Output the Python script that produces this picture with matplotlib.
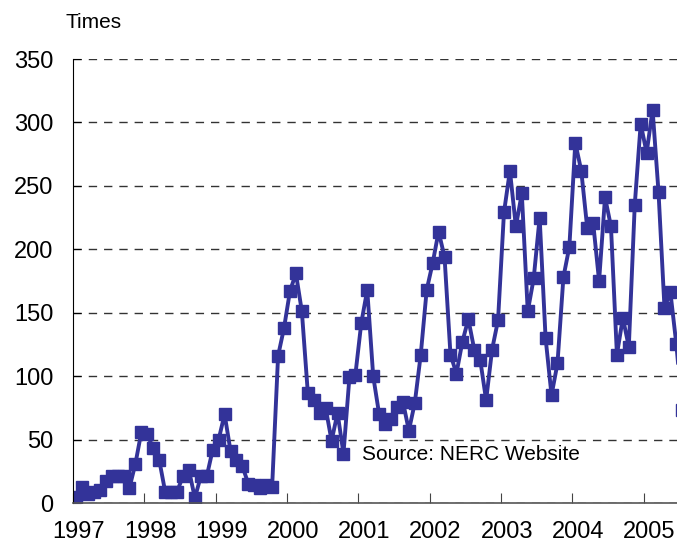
import numpy as np
import matplotlib
matplotlib.use("Agg")
import matplotlib.pyplot as plt

# monthly counts, Jan 1997 onward
y1997 = [5, 13, 7, 9, 10, 17, 21, 21, 21, 12, 31, 56]
y1998 = [54, 43, 34, 9, 9, 9, 21, 26, 4, 21, 21, 42]
y1999 = [50, 70, 41, 34, 29, 15, 14, 12, 14, 13, 116, 138]
y2000 = [167, 181, 151, 87, 81, 71, 75, 49, 71, 39, 99, 101]
y2001 = [142, 168, 100, 70, 62, 66, 76, 80, 57, 79, 117, 168]
y2002 = [189, 214, 194, 117, 102, 127, 145, 121, 113, 81, 121, 144]
y2003 = [229, 262, 218, 244, 151, 177, 225, 130, 85, 110, 178, 202]
y2004 = [284, 262, 217, 221, 175, 241, 218, 117, 146, 123, 235, 299]
y2005 = [276, 310, 245, 154, 166, 125, 73]
years = ['1997', '1998', '1999', '2000', '2001', '2002', '2003', '2004', '2005']

values = y1997 + y1998 + y1999 + y2000 + y2001 + y2002 + y2003 + y2004 + y2005
months = np.arange(len(values))

plt.rcParams['font.family'] = ['Liberation Sans', 'DejaVu Sans']

fig = plt.figure(figsize=(6.77, 5.47), dpi=100)
ax = fig.add_axes([73 / 677, 44 / 547, 642 / 677, 444 / 547])

ax.plot(months, values, color='#333399', linewidth=2.8, marker='s',
        markersize=8.5, markerfacecolor='#333399', markeredgecolor='#333399')

ax.set_xlim(-0.5, 107.5)
ax.set_ylim(0, 350)

ax.set_yticks(np.arange(0, 351, 50))
ax.yaxis.grid(True, color='#333333', linestyle=(0, (6, 5)), linewidth=1)
ax.set_axisbelow(True)

# ticks between years, labels under January
ax.set_xticks(np.arange(len(years)) * 12 - 0.5)
ax.set_xticklabels([])
ax.set_xticks(np.arange(len(years)) * 12 + 0.5, minor=True)
ax.set_xticklabels(years, minor=True)
ax.tick_params(axis='x', which='major', direction='in', length=7, color='#444444')
ax.tick_params(axis='x', which='minor', length=0, pad=13, labelsize=17)
ax.tick_params(axis='y', direction='in', length=6, pad=14, labelsize=17)

for s in ['top', 'right']:
    ax.spines[s].set_visible(False)
ax.spines['left'].set_color('black')
ax.spines['bottom'].set_color('#555555')
ax.spines['bottom'].set_linewidth(1.2)

fig.text(65 / 677, 1 - 23 / 547, 'Times', fontsize=15, va='center', ha='left')
fig.text(362 / 677, 1 - 455 / 547, 'Source: NERC Website', fontsize=15,
         va='center', ha='left')

fig.savefig('out.png', dpi=100)
